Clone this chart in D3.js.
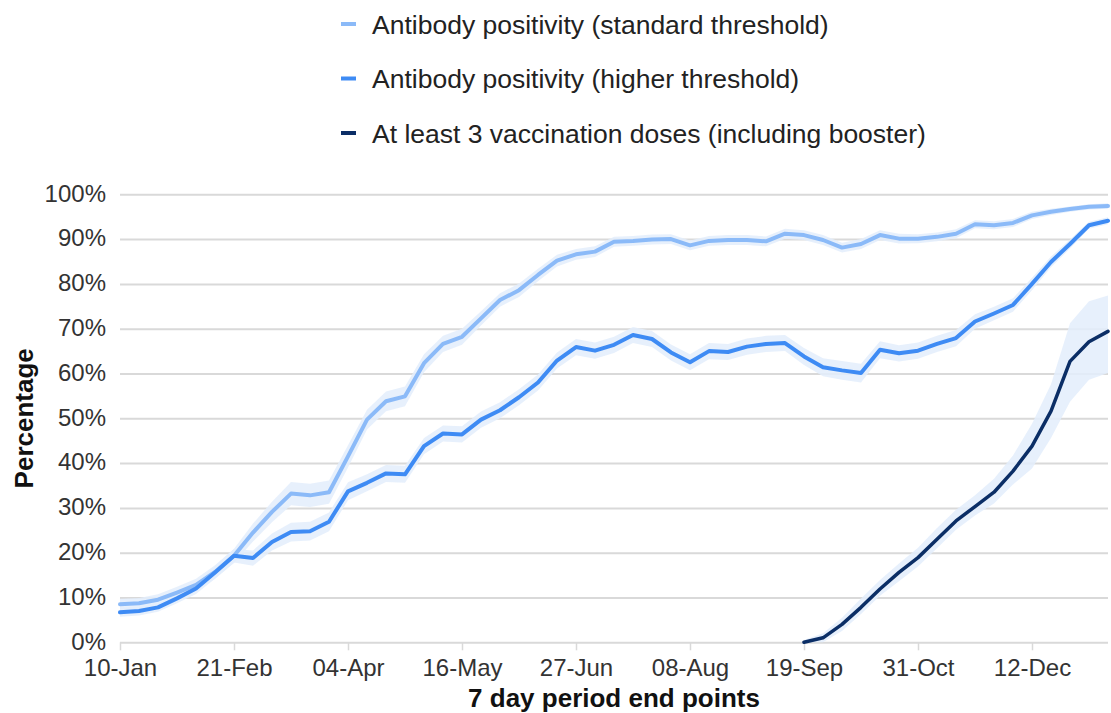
<!DOCTYPE html>
<html>
<head>
<meta charset="utf-8">
<script src="https://cdn.jsdelivr.net/npm/d3@7"></script>
<style>
  html, body { margin: 0; padding: 0; background: #fff; }
  svg { display: block; font-family: "Liberation Sans", Arial, sans-serif; }
</style>
</head>
<body>
<svg id="chart" width="1111" height="713"></svg>
<script>
// ---- data (weekly 7-day period end points, starting 10-Jan) ----
const weekLabels = ["10-Jan","21-Feb","04-Apr","16-May","27-Jun","08-Aug","19-Sep","31-Oct","12-Dec"];
const weekLabelIndex = [0, 6, 12, 18, 24, 30, 36, 42, 48];
const yTicks = [0, 10, 20, 30, 40, 50, 60, 70, 80, 90, 100];

const seriesNames = [
  "Antibody positivity (standard threshold)",
  "Antibody positivity (higher threshold)",
  "At least 3 vaccination doses (including booster)"
];

const standardValues = [8.5, 8.7, 9.5, 11.1, 12.8, 15.7, 19.3, 24.5, 29.1, 33.2, 32.8, 33.5, 41.5,
  49.7, 53.8, 54.9, 62.3, 66.6, 68.2, 72.3, 76.4, 78.6, 82.0, 85.2, 86.6, 87.2,
  89.4, 89.6, 89.9, 90.0, 88.6, 89.6, 89.8, 89.8, 89.5, 91.2, 90.9, 89.8, 88.1,
  88.9, 90.9, 90.1, 90.1, 90.5, 91.2, 93.3, 93.1, 93.6, 95.3, 96.1, 96.7, 97.2, 97.4];
const standardCI = [1.2, 1.2, 1.2, 1.3, 1.4, 1.5, 1.6, 2.0, 2.3, 2.6, 2.6, 2.6, 2.5,
  2.2, 2.2, 2.2, 2.0, 1.8, 1.8, 1.6, 1.5, 1.5, 1.4, 1.3, 1.2, 1.2,
  1.1, 1.1, 1.1, 1.1, 1.1, 1.1, 1.1, 1.1, 1.1, 1.1, 1.1, 1.1, 1.1,
  1.1, 1.1, 1.1, 1.0, 1.0, 1.0, 0.9, 0.9, 0.9, 0.8, 0.7, 0.6, 0.6, 0.6];

const higherValues = [6.7, 7.0, 7.8, 9.8, 12.0, 15.6, 19.3, 18.8, 22.4, 24.6, 24.8, 26.9, 33.7,
  35.6, 37.7, 37.5, 43.8, 46.6, 46.4, 49.7, 51.8, 54.7, 58.0, 62.9, 65.9, 65.1,
  66.4, 68.6, 67.7, 64.7, 62.5, 65.0, 64.8, 66.0, 66.6, 66.8, 63.8, 61.4, 60.7,
  60.1, 65.3, 64.5, 65.1, 66.6, 67.9, 71.6, 73.4, 75.3, 80.0, 84.9, 88.9, 93.1, 94.1];
const higherCI = [1.0, 1.0, 1.0, 1.1, 1.2, 1.4, 1.5, 1.7, 1.9, 2.1, 2.1, 2.1, 2.0,
  1.9, 1.9, 1.9, 1.8, 1.8, 1.8, 1.8, 1.8, 1.8, 1.8, 1.8, 1.8, 1.8,
  1.8, 1.8, 1.8, 1.8, 1.8, 1.8, 1.8, 1.8, 1.8, 1.8, 1.9, 2.0, 2.1,
  2.1, 1.9, 1.8, 1.8, 1.8, 1.8, 1.6, 1.5, 1.5, 1.4, 1.2, 1.0, 0.8, 0.8];

const vaccineStart = 36;
const vaccineValues = [0.0, 1.0, 4.0, 7.8, 11.9, 15.6, 18.9, 23.0, 27.1, 30.3, 33.5, 38.2, 43.8, 51.6, 62.7, 67.1, 69.4];
const vaccineUpper = [0.5, 1.0, 1.5, 2.0, 2.0, 2.0, 2.2, 2.5, 2.5, 2.5, 3.0, 3.5, 5.0, 6.0, 8.5, 9.0, 8.0];
const vaccineLower = [0.0, 1.0, 1.5, 1.5, 1.5, 2.0, 2.0, 2.0, 2.0, 2.0, 2.5, 3.0, 5.0, 6.0, 9.0, 8.5, 9.3];

const colors = ["#8bbaf8", "#3e8bf4", "#0b2e66"];
const bandColor = "#e3edfc";

// ---- layout ----
const svg = d3.select("#chart");
const plotLeft = 120, plotRight = 1108, plotTop = 194.3, plotBottom = 642.3;

const x = d3.scaleLinear().domain([0, standardValues.length - 1]).range([plotLeft, plotRight]);
const y = d3.scaleLinear().domain([0, 100]).range([plotBottom, plotTop]);

// gridlines + y labels
const yAxis = d3.axisLeft(y).tickValues(yTicks).tickFormat(d => d + "%")
  .tickSize(-(plotRight - plotLeft)).tickPadding(14);
const gy = svg.append("g").attr("transform", `translate(${plotLeft},0)`).call(yAxis);
gy.select(".domain").remove();
gy.selectAll(".tick line").attr("stroke", "#d9d9d9").attr("stroke-width", 2);
gy.selectAll(".tick text").attr("font-size", 24).attr("fill", "#333")
  .attr("font-family", "Liberation Sans, Arial, sans-serif").attr("dy", "0.28em");

// x axis ticks
const xAxis = d3.axisBottom(x).tickValues(weekLabelIndex)
  .tickFormat((d, i) => weekLabels[i]).tickSize(8).tickPadding(9);
const gx = svg.append("g").attr("transform", `translate(0,${plotBottom})`).call(xAxis);
gx.select(".domain").remove();
gx.selectAll(".tick line").attr("stroke", "#d9d9d9").attr("stroke-width", 1.5);
gx.selectAll(".tick text").attr("font-size", 24).attr("fill", "#333")
  .attr("font-family", "Liberation Sans, Arial, sans-serif");

// bands
const band = d3.area().x(d => x(d.i)).y0(d => y(d.lo)).y1(d => y(d.hi));
const line = d3.line().x(d => x(d.i)).y(d => y(d.v));

const stdData = standardValues.map((v, i) => ({i, v, lo: v - standardCI[i], hi: Math.min(100, v + standardCI[i])}));
const hiData = higherValues.map((v, i) => ({i, v, lo: v - higherCI[i], hi: v + higherCI[i]}));
const vacData = vaccineValues.map((v, k) => ({i: vaccineStart + k, v, lo: Math.max(0, v - vaccineLower[k]), hi: v + vaccineUpper[k]}));

const gBands = svg.append("g").attr("fill", bandColor).attr("fill-opacity", 0.85);
[stdData, hiData, vacData].forEach(dd => gBands.append("path").attr("d", band(dd)));

const gLines = svg.append("g").attr("fill", "none").attr("stroke-linejoin", "round").attr("stroke-linecap", "round");
gLines.append("path").attr("d", line(stdData)).attr("stroke", colors[0]).attr("stroke-width", 4);
gLines.append("path").attr("d", line(hiData)).attr("stroke", colors[1]).attr("stroke-width", 4);
gLines.append("path").attr("d", line(vacData)).attr("stroke", colors[2]).attr("stroke-width", 3.5);

// axis titles
svg.append("text").attr("x", (plotLeft + plotRight) / 2).attr("y", 707)
  .attr("text-anchor", "middle").attr("font-size", 26).attr("font-weight", "bold").attr("fill", "#111")
  .text("7 day period end points");
svg.append("text").attr("transform", `translate(33,${(plotTop + plotBottom) / 2}) rotate(-90)`)
  .attr("text-anchor", "middle").attr("font-size", 26).attr("font-weight", "bold").attr("fill", "#111")
  .text("Percentage");

// legend
const legendY = [24, 78.5, 133];
const lg = svg.append("g");
seriesNames.forEach((name, k) => {
  lg.append("line").attr("x1", 341).attr("x2", 356).attr("y1", legendY[k]).attr("y2", legendY[k])
    .attr("stroke", colors[k]).attr("stroke-width", 4);
  lg.append("text").attr("x", 372).attr("y", legendY[k]).attr("dy", "0.37em")
    .attr("font-size", 26.5).attr("fill", "#222").text(name);
});
</script>
</body>
</html>
